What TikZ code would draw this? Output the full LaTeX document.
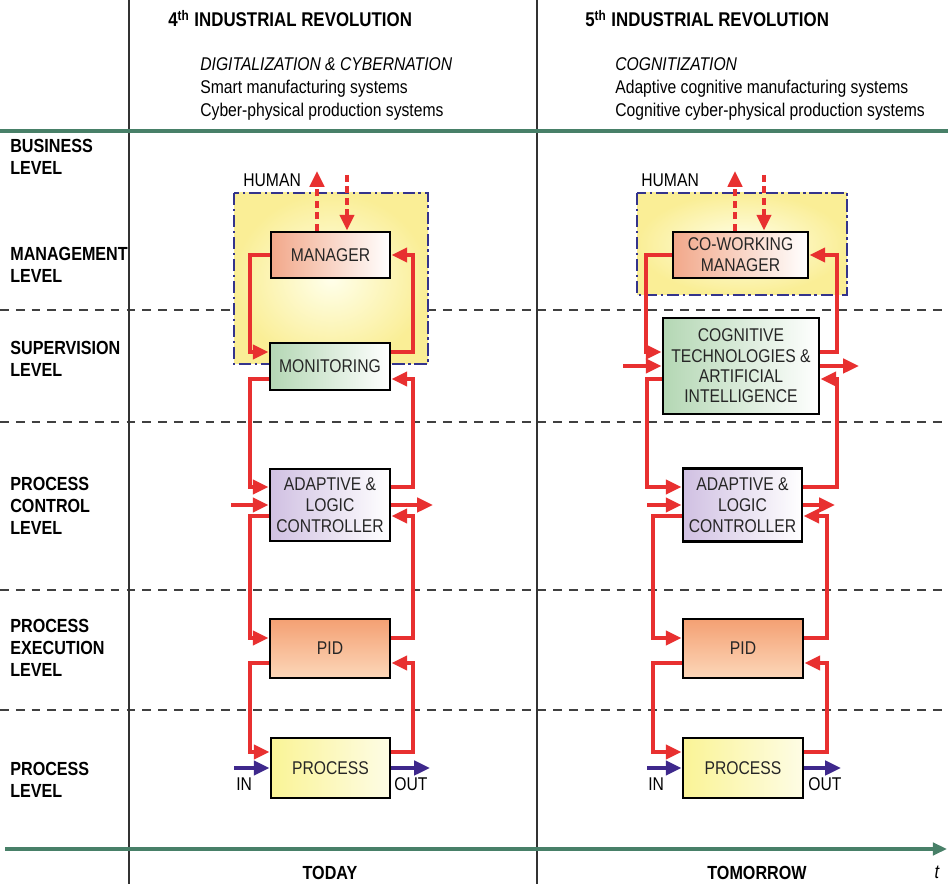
\documentclass[tikz,border=0pt]{standalone}
\usepackage{fontspec}
\setmainfont{Liberation Sans}[FakeStretch=0.85]
\usetikzlibrary{arrows.meta}

\definecolor{flowred}{RGB}{232,48,48}
\definecolor{sigblue}{RGB}{62,40,140}
\definecolor{frameblue}{RGB}{52,52,140}
\definecolor{axisgreen}{RGB}{72,128,104}
\definecolor{humanyel}{RGB}{250,238,150}
\definecolor{mgrfill}{RGB}{242,168,138}
\definecolor{monfill}{RGB}{180,215,180}
\definecolor{alcfill}{RGB}{208,192,226}
\definecolor{pidtop}{RGB}{244,160,115}
\definecolor{pidbot}{RGB}{252,215,185}
\definecolor{procfill}{RGB}{250,244,150}

\tikzset{
  box/.style={draw=black, line width=1.6pt, align=center, inner sep=0pt,
    text=black!85, font=\fontsize{10.5}{12}\selectfont},
  flow/.style={draw=flowred, line width=2.2pt, -{Triangle[length=9pt,width=8pt]}},
  humanflow/.style={flow, dash pattern=on 4pt off 2.5pt},
  sig/.style={draw=sigblue, line width=2.2pt, -{Triangle[length=9pt,width=8pt]}},
  human/.style={draw=frameblue, line width=1.3pt,
    dash pattern=on 7pt off 2pt on 1.5pt off 2pt,
    inner color=yellow!8, outer color=humanyel},
  lvl/.style={anchor=west, align=left, inner sep=0pt, font=\bfseries\fontsize{10.8}{12.5}\selectfont},
  small/.style={inner sep=0pt, font=\fontsize{10.5}{12}\selectfont},
  levelline/.style={draw=black!75, line width=0.8pt, dash pattern=on 5pt off 4pt}
}

\begin{document}
\begin{tikzpicture}[x=0.02cm,y=-0.02cm]
    \useasboundingbox (0,0) rectangle (948,884);
    \fill[white] (0,0) rectangle (948,884);

    % levels and time axis
    \foreach \y in {310,422,590,710}
        \draw[levelline] (0,\y) -- (948,\y);
    \draw[black!80, line width=0.9pt] (129,0) -- (129,884);
    \draw[black!80, line width=0.9pt] (537,0) -- (537,884);
    \draw[axisgreen, line width=2.6pt] (0,131) -- (948,131);
    \draw[axisgreen, line width=2.6pt, -{Triangle[length=8pt,width=7pt]}] (5,849) -- (947,849);

    \node[lvl] (business) at (10,157) {BUSINESS\\LEVEL};
    \node[lvl] (management) at (10,265) {MANAGEMENT\\LEVEL};
    \node[lvl] (supervision) at (10,359) {SUPERVISION\\LEVEL};
    \node[lvl] (control) at (10,506) {PROCESS\\CONTROL\\LEVEL};
    \node[lvl] (execution) at (10,648) {PROCESS\\EXECUTION\\LEVEL};
    \node[lvl] (processlvl) at (10,780) {PROCESS\\LEVEL};

    \node[anchor=base west, inner sep=0pt, font=\bfseries\fontsize{11.3}{13}\selectfont] (rev4) at (168,27) {4\textsuperscript{th} INDUSTRIAL REVOLUTION};
    \node[anchor=base west, inner sep=0pt, font=\bfseries\fontsize{11.3}{13}\selectfont] (rev5) at (585,27) {5\textsuperscript{th} INDUSTRIAL REVOLUTION};
    \node[anchor=west, align=left, inner sep=0pt, font=\fontsize{10.5}{13}\selectfont] (sub4) at (200,89) {\textit{DIGITALIZATION \& CYBERNATION}\\Smart manufacturing systems\\Cyber-physical production systems};
    \node[anchor=west, align=left, inner sep=0pt, font=\fontsize{10.5}{13}\selectfont] (sub5) at (615,89) {\textit{COGNITIZATION}\\Adaptive cognitive manufacturing systems\\Cognitive cyber-physical production systems};

    \node[font=\bfseries\fontsize{10.8}{12}\selectfont] (today) at (330,873) {TODAY};
    \node[font=\bfseries\fontsize{10.8}{12}\selectfont] (tomorrow) at (757,873) {TOMORROW};
    \node[font=\itshape\fontsize{11}{12}\selectfont] (time) at (937,872) {t};

    % human areas
    \draw[human] (234,193) rectangle (428,364);
    \draw[human] (637,193) rectangle (847,295);
    \node[small, anchor=west] (human1) at (243,180) {HUMAN};
    \node[small, anchor=west] (human2) at (641,180) {HUMAN};

    % today
    \node[box, minimum width=2.38cm, minimum height=0.92cm, left color=mgrfill, right color=white] (mgr) at (330.5,255) {MANAGER};
    \node[box, minimum width=2.4cm, minimum height=0.94cm, left color=monfill, right color=white] (mon) at (330,366.5) {MONITORING};
    \node[box, minimum width=2.4cm, minimum height=1.44cm, left color=alcfill, right color=white] (alc) at (330,505) {ADAPTIVE \&\\LOGIC\\CONTROLLER};
    \node[box, minimum width=2.4cm, minimum height=1.18cm, top color=pidtop, bottom color=pidbot] (pid) at (330,648.5) {PID};
    \node[box, minimum width=2.38cm, minimum height=1.2cm, left color=procfill, right color=procfill!25!white] (proc) at (330.5,768) {PROCESS};

    \coordinate (up1) at (317,171);
    \coordinate (down1) at (347,175);
    \draw[humanflow] (mgr.north -| up1) -- (up1);
    \draw[humanflow] (down1) -- (mgr.north -| down1);

    \draw[flow] (mgr.west) -| (250,352) -- (mon.west |- 0,352);
    \draw[flow] (mon.east |- 0,352) -| (413,255) -- (mgr.east);
    \draw[flow] (mon.west |- 0,379) -| (250,487) -- (alc.west |- 0,487);
    \draw[flow] (alc.east |- 0,487) -| (413,379) -- (mon.east |- 0,379);
    \draw[flow] (alc.west |- 0,516) -| (250,638) -- (pid.west |- 0,638);
    \draw[flow] (pid.east |- 0,638) -| (413,516) -- (alc.east |- 0,516);
    \draw[flow] (pid.west |- 0,663) -| (250,752) -- (proc.west |- 0,752);
    \draw[flow] (proc.east |- 0,752) -| (413,663) -- (pid.east |- 0,663);

    \coordinate (cin1) at (231,505);
    \coordinate (cout1) at (433,505);
    \draw[flow] (cin1) -- (alc.west |- cin1);
    \draw[flow] (alc.east |- cout1) -- (cout1);

    \coordinate (in1) at (234,768);
    \coordinate (out1) at (430,768);
    \draw[sig] (in1) -- (proc.west |- in1);
    \draw[sig] (proc.east |- out1) -- (out1);
    \node[small, anchor=west] (inlbl1) at (236,784) {IN};
    \node[small, anchor=west] (outlbl1) at (394,784) {OUT};

    % tomorrow
    \node[box, minimum width=2.7cm, minimum height=0.92cm, left color=mgrfill, right color=white] (cwm) at (740.5,255) {CO-WORKING\\MANAGER};
    \node[box, minimum width=3.12cm, minimum height=1.92cm, left color=monfill, right color=white, font=\fontsize{10.5}{11.6}\selectfont] (cog) at (741,366) {COGNITIVE\\TECHNOLOGIES \&\\ARTIFICIAL\\INTELLIGENCE};
    \node[box, minimum width=2.38cm, minimum height=1.46cm, left color=alcfill, right color=white] (alc2) at (742.5,505) {ADAPTIVE \&\\LOGIC\\CONTROLLER};
    \node[box, minimum width=2.4cm, minimum height=1.18cm, top color=pidtop, bottom color=pidbot] (pid2) at (743,648.5) {PID};
    \node[box, minimum width=2.4cm, minimum height=1.2cm, left color=procfill, right color=procfill!25!white] (proc2) at (743,768) {PROCESS};

    \coordinate (up2) at (735,171);
    \coordinate (down2) at (764,175);
    \draw[humanflow] (cwm.north -| up2) -- (up2);
    \draw[humanflow] (down2) -- (cwm.north -| down2);

    \draw[flow] (cwm.west) -| (646,352) -- (cog.west |- 0,352);
    \draw[flow] (cog.east |- 0,352) -| (837,255) -- (cwm.east);
    \draw[flow] (cog.west |- 0,379) -| (647,487) -- (alc2.west |- 0,487);
    \draw[flow] (alc2.east |- 0,487) -| (837,379) -- (cog.east |- 0,379);
    \draw[flow] (alc2.west |- 0,516) -| (653,638) -- (pid2.west |- 0,638);
    \draw[flow] (pid2.east |- 0,638) -| (827,516) -- (alc2.east |- 0,516);
    \draw[flow] (pid2.west |- 0,663) -| (653,752) -- (proc2.west |- 0,752);
    \draw[flow] (proc2.east |- 0,752) -| (827,663) -- (pid2.east |- 0,663);

    \coordinate (cin2) at (623,366);
    \coordinate (cout2) at (859,366);
    \draw[flow] (cin2) -- (cog.west |- cin2);
    \draw[flow] (cog.east |- cout2) -- (cout2);
    \coordinate (ain2) at (647,505);
    \coordinate (aout2) at (835,505);
    \draw[flow] (ain2) -- (alc2.west |- ain2);
    \draw[flow] (alc2.east |- aout2) -- (aout2);

    \coordinate (in2) at (647,768);
    \coordinate (out2) at (841,768);
    \draw[sig] (in2) -- (proc2.west |- in2);
    \draw[sig] (proc2.east |- out2) -- (out2);
    \node[small, anchor=west] (inlbl2) at (648,784) {IN};
    \node[small, anchor=west] (outlbl2) at (808,784) {OUT};
\end{tikzpicture}
\end{document}
